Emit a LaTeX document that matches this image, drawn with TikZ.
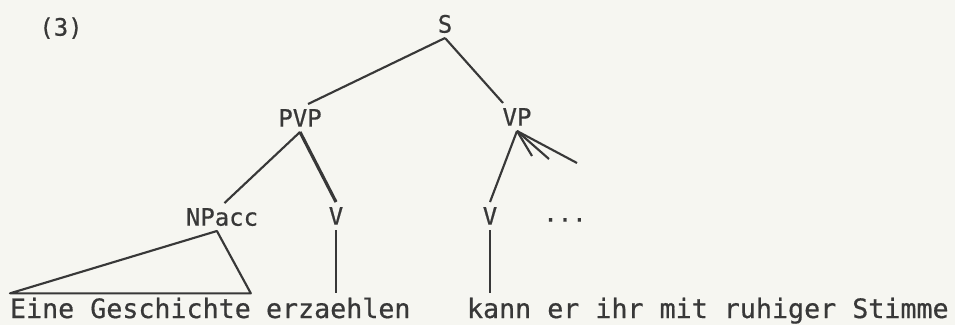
\documentclass[tikz,border=0pt]{standalone}
\usepackage{fontspec}
\newfontfamily\treemono[FakeBold=0.6]{DejaVu Sans Mono}
\newcommand\catfont{\treemono\fontsize{18pt}{20pt}\selectfont}
\newcommand\leaffont{\treemono\fontsize{20pt}{22pt}\selectfont}
\definecolor{ink}{HTML}{383838}
\definecolor{paper}{HTML}{F6F6F1}
\begin{document}
\begin{tikzpicture}[x=0.75pt, y=-0.75pt,
    cat/.style={font=\catfont, text=ink, inner sep=0pt, outer sep=4pt, text height=13pt, text depth=0pt},
    leaf/.style={font=\leaffont, text=ink, inner sep=0pt, outer xsep=0pt, outer ysep=4pt, text height=14.5pt, text depth=0pt, anchor=base west},
    branch/.style={draw=ink, line width=1.6pt}]
    \fill[paper] (0,0) rectangle (955,325);
    \useasboundingbox (0,0) rectangle (955,325);

    \node (exno) [cat] at (61,27) {(3)};
    \node (S) [cat] at (445,24) {S};
    \node (PVP) [cat] at (300,118) {PVP};
    \node (VP) [cat] at (517,117) {VP};
    \node (NPacc) [cat] at (222,217) {NPacc};
    \node (Va) [cat] at (336,216) {V};
    \node (Vb) [cat] at (490,216) {V};
    \node (dots) [cat] at (565,213) {...};

    \node (eine) [leaf] at (10,318) {Eine Geschichte};
    \node (erz) [leaf] at (266,318) {erzaehlen};
    \node (kann) [leaf] at (467,318) {kann er ihr mit ruhiger Stimme};

    \coordinate (stubA) at (532,156);
    \coordinate (stubB) at (549,159);
    \coordinate (stubC) at (577,163);

    \draw[branch] (S.south) -- (PVP.60);
    \draw[branch] (S.south) -- (VP.135);
    \draw[branch] (PVP.south) -- (NPacc.80);
    \draw[branch, line width=2.4pt] (PVP.south) -- (Va.north);
    \draw[branch] (VP.south) -- (Vb.north);
    \draw[branch] (VP.south) -- (stubA);
    \draw[branch] (VP.south) -- (stubB);
    \draw[branch] (VP.south) -- (stubC);
    \draw[branch, line join=round] (NPacc.-110) -- (eine.north west) -- (eine.north east) -- cycle;
    \draw[branch] (Va.south) -- (Va.south |- erz.north);
    \draw[branch] (Vb.south) -- (Vb.south |- kann.north);
\end{tikzpicture}
\end{document}
